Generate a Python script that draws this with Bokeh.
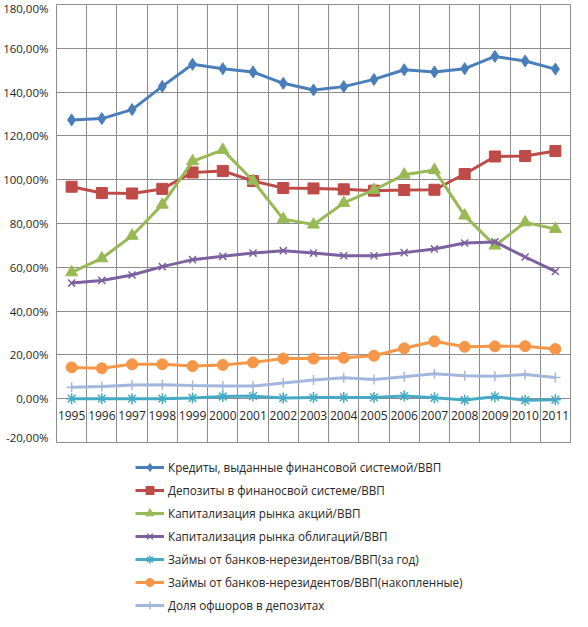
from bokeh.plotting import figure
from bokeh.layouts import column
from bokeh.models import FixedTicker, Legend, LegendItem, ColumnDataSource
from bokeh.core.properties import value
from bokeh.embed import file_html
from bokeh.resources import INLINE

years = [1995, 1996, 1997, 1998, 1999, 2000, 2001, 2002, 2003, 2004,
         2005, 2006, 2007, 2008, 2009, 2010, 2011]

credits_gdp = [127.3, 127.9, 132.0, 142.6, 152.7, 150.7, 149.2, 144.0, 141.0,
               142.5, 145.8, 150.2, 149.2, 150.7, 156.3, 154.2, 150.5]
deposits_gdp = [96.8, 93.9, 93.7, 95.8, 103.3, 104.0, 99.4, 96.2, 96.0, 95.6,
                95.0, 95.3, 95.4, 102.6, 110.6, 110.8, 113.1]
stocks_gdp = [57.7, 64.1, 74.4, 88.6, 108.4, 113.6, 99.5, 82.0, 79.5, 89.4,
              95.3, 102.3, 104.4, 83.6, 69.9, 80.5, 77.5]
bonds_gdp = [52.8, 54.0, 56.5, 60.3, 63.5, 65.0, 66.5, 67.6, 66.5, 65.3, 65.3,
             66.7, 68.4, 71.1, 71.6, 64.7, 58.1]
loans_year_gdp = [0.0, 0.0, 0.0, 0.0, 0.3, 1.0, 1.2, 0.3, 0.5, 0.6, 0.6, 1.2,
                  0.4, -0.6, 0.9, -0.7, -0.5]
loans_accum_gdp = [14.3, 13.9, 15.7, 15.7, 14.9, 15.4, 16.6, 18.3, 18.3, 18.7,
                   19.6, 23.0, 26.2, 23.7, 23.9, 24.0, 22.7]
offshore_share = [5.2, 5.6, 6.2, 6.4, 6.0, 5.8, 5.8, 7.2, 8.5, 9.6, 8.8, 10.0,
                  11.4, 10.5, 10.3, 11.0, 9.7]

series_labels = [
    "Кредиты, выданные финансовой системой/ВВП",
    "Депозиты в финаносвой системе/ВВП",
    "Капитализация рынка акций/ВВП",
    "Капитализация рынка облигаций/ВВП",
    "Займы от банков-нерезидентов/ВВП(за год)",
    "Займы от банков-нерезидентов/ВВП(накопленные)",
    "Доля офшоров в депозитах",
]
y_ticks = [-20, 0, 20, 40, 60, 80, 100, 120, 140, 160, 180]
y_tick_labels = ["-20,00%", "0,00%", "20,00%", "40,00%", "60,00%", "80,00%",
                 "100,00%", "120,00%", "140,00%", "160,00%", "180,00%"]
axis_cross = 0

series_values = [credits_gdp, deposits_gdp, stocks_gdp, bonds_gdp,
                 loans_year_gdp, loans_accum_gdp, offshore_share]
colors = ["#4A7EBB", "#BE4B48", "#98B954", "#7D60A0", "#46AAC5", "#F79646", "#A3B7DD"]
markers = ["diamond", "square", "triangle", "x", "asterisk", "circle", "cross"]
marker_sizes = [12, 11, 12, 10, 11, 11, 10]
legend_marker_sizes = [7, 9, 9, 8, 8, 9, 8]

FONT = "Open Sans"
TEXT_COLOR = "#262626"
GRID_COLOR = "#8c8c8c"

p = figure(width=572, height=444, output_backend="svg", toolbar_location=None,
           x_range=(years[0] - 0.5, years[-1] + 0.5), y_range=(y_ticks[0], y_ticks[-1]),
           x_axis_location=None,
           min_border_top=4, min_border_bottom=2, min_border_right=2, min_border_left=0)

p.outline_line_color = GRID_COLOR
p.xgrid.ticker = FixedTicker(ticks=[y - 0.5 for y in years] + [years[-1] + 0.5])
p.ygrid.ticker = FixedTicker(ticks=y_ticks)
for g in (p.xgrid, p.ygrid):
    g.grid_line_color = GRID_COLOR
    g.grid_line_width = 1

yax = p.yaxis[0]
yax.ticker = FixedTicker(ticks=y_ticks)
yax.major_label_overrides = {t: l for t, l in zip(y_ticks, y_tick_labels)}
yax.axis_line_color = None
yax.major_tick_line_color = None
yax.minor_tick_line_color = None
yax.major_tick_out = 0
yax.major_tick_in = 0
yax.major_label_standoff = 8
yax.major_label_text_font = FONT
yax.major_label_text_font_size = "11.5px"
yax.major_label_text_color = TEXT_COLOR

# category labels sit just under the 0 line (Excel axis crossing)
p.text(x=years, y=[axis_cross] * len(years), text=[str(y) for y in years],
       text_align="center", text_baseline="middle", y_offset=17,
       text_font=value(FONT), text_font_size="12px", text_color=TEXT_COLOR)

for vals, col, mk, ms in zip(series_values, colors, markers, marker_sizes):
    src = ColumnDataSource(dict(x=years, y=vals))
    p.line("x", "y", source=src, line_color=col, line_width=3)
    if mk in ("x", "asterisk", "cross"):
        p.scatter("x", "y", source=src, marker=mk, size=ms, line_color=col, line_width=1.5)
    else:
        p.scatter("x", "y", source=src, marker=mk, size=ms, fill_color=col, line_color=col)

# legend panel
lg = figure(width=572, height=171, output_backend="svg", toolbar_location=None,
            x_range=(0, 1), y_range=(0, 1), x_axis_location=None, y_axis_location=None,
            min_border=0)
lg.grid.visible = False
lg.outline_line_color = None

nan = float("nan")
items = []
for lab, col, mk, lms in zip(series_labels, colors, markers, legend_marker_sizes):
    proxy = ColumnDataSource(dict(x=[nan], y=[nan]))
    lr = lg.line("x", "y", source=proxy, line_color=col, line_width=3)
    if mk in ("x", "asterisk", "cross"):
        sr = lg.scatter("x", "y", source=proxy, marker=mk, size=lms, line_color=col, line_width=1.5)
    else:
        sr = lg.scatter("x", "y", source=proxy, marker=mk, size=lms, fill_color=col, line_color=col)
    items.append(LegendItem(label=lab, renderers=[lr, sr]))

legend = Legend(items=items, location=(79, 0), margin=0, padding=0,
                label_height=20, glyph_height=20, glyph_width=29, spacing=3,
                label_standoff=4, border_line_color=None, background_fill_alpha=0,
                label_text_font=FONT, label_text_font_size="11.7px",
                label_text_color=TEXT_COLOR)
lg.add_layout(legend)

layout = column(p, lg, spacing=0)
open("out.html", "w").write(file_html(layout, INLINE))
